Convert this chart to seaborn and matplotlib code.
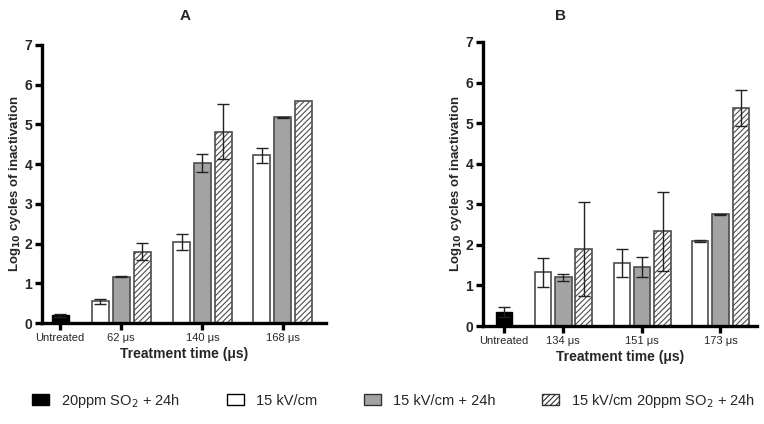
import matplotlib
matplotlib.use("Agg")
import matplotlib.pyplot as plt
from matplotlib.patches import Patch
import seaborn as sns
import numpy as np

# panel A
groups_a = ["Untreated", "62 μs", "140 μs", "168 μs"]
untreated_a = [0.20]
untreated_a_err = [0.04]
white_a = [0.55, 2.05, 4.22]
white_a_err = [0.06, 0.20, 0.19]
gray_a = [1.17, 4.03, 5.18]
gray_a_err = [0.01, 0.23, 0.01]
hatch_a = [1.80, 4.82, 5.58]
hatch_a_err = [0.22, 0.70, np.nan]

# panel B
groups_b = ["Untreated", "134 μs", "151 μs", "173 μs"]
untreated_b = [0.35]
untreated_b_err = [0.12]
white_b = [1.32, 1.56, 2.10]
white_b_err = [0.36, 0.34, 0.03]
gray_b = [1.20, 1.46, 2.75]
gray_b_err = [0.08, 0.24, 0.01]
hatch_b = [1.90, 2.33, 5.38]
hatch_b_err = [1.15, 0.97, 0.44]

legend_labels = ["20ppm SO$_2$ + 24h", "15 kV/cm", "15 kV/cm + 24h",
                 "15 kV/cm 20ppm SO$_2$ + 24h"]

sns.set_style("ticks")
plt.rcParams['font.family'] = ['Liberation Sans', 'DejaVu Sans']
plt.rcParams['hatch.linewidth'] = 0.8

EDGE = "#4d4d4d"
GRAY = "#a3a3a6"
width = 0.21
step = 0.26


def draw_panel(ax, groups, unt, unt_err, white, white_err, gray, gray_err, hatch, hatch_err, xlim):
    centers = np.array([0.0, 0.76, 1.77, 2.77])
    g = centers[1:]
    ax.bar(centers[:1], unt, width, color="black", edgecolor="black", lw=1.0)
    ax.bar(g - step, white, width, color="white", edgecolor=EDGE, lw=1.2)
    ax.bar(g, gray, width, color=GRAY, edgecolor=EDGE, lw=1.2)
    ax.bar(g + step, hatch, width, color="white", edgecolor=EDGE, lw=1.2, hatch="//////")
    for xs, ys, es in [(centers[:1], unt, unt_err), (g - step, white, white_err),
                       (g, gray, gray_err), (g + step, hatch, hatch_err)]:
        es = np.array(es, dtype=float)
        ok = ~np.isnan(es)
        ax.errorbar(np.array(xs)[ok], np.array(ys)[ok], yerr=es[ok], fmt="none",
                    ecolor="#222222", elinewidth=1.0, capsize=4, capthick=1.0)
    ax.set_ylim(0, 7)
    ax.set_xlim(*xlim)
    ax.set_yticks(range(8))
    ax.set_xticks(centers)
    ax.set_xticklabels(groups, fontsize=8)
    for lab in ax.get_yticklabels():
        lab.set_fontweight("bold")
        lab.set_fontsize(10)
    ax.set_ylabel("Log$_{\\mathbf{10}}$ cycles of inactivation", fontsize=9.5,
                  fontweight="bold", labelpad=1)
    ax.set_xlabel("Treatment time (μs)", fontsize=10, fontweight="bold", labelpad=3)
    sns.despine(ax=ax)
    for s in ["left", "bottom"]:
        ax.spines[s].set_linewidth(2.4)
        ax.spines[s].set_color("black")
    ax.tick_params(width=2.4, length=5, color="black", pad=2)


fig = plt.figure(figsize=(7.64, 4.24), dpi=100)
ax_a = fig.add_axes([0.055, 0.238, 0.372, 0.656])
ax_b = fig.add_axes([0.632, 0.231, 0.359, 0.670])

draw_panel(ax_a, groups_a, untreated_a, untreated_a_err, white_a, white_a_err,
           gray_a, gray_a_err, hatch_a, hatch_a_err, (-0.225, 3.31))
draw_panel(ax_b, groups_b, untreated_b, untreated_b_err, white_b, white_b_err,
           gray_b, gray_b_err, hatch_b, hatch_b_err, (-0.27, 3.24))

fig.text(0.242, 0.963, "A", fontsize=11, fontweight="bold", ha="center", va="center")
fig.text(0.733, 0.963, "B", fontsize=11, fontweight="bold", ha="center", va="center")

handles = [Patch(facecolor="black", edgecolor="black"),
           Patch(facecolor="white", edgecolor="black"),
           Patch(facecolor=GRAY, edgecolor="#333333"),
           Patch(facecolor="white", edgecolor="#333333", hatch="//////")]
fig.legend(handles, legend_labels, loc="center", bbox_to_anchor=(0.515, 0.055), ncol=4,
           frameon=False, fontsize=10.5, handlelength=1.2, handleheight=0.75,
           columnspacing=3.2, handletextpad=0.8)

fig.savefig("out.png", dpi=100)
